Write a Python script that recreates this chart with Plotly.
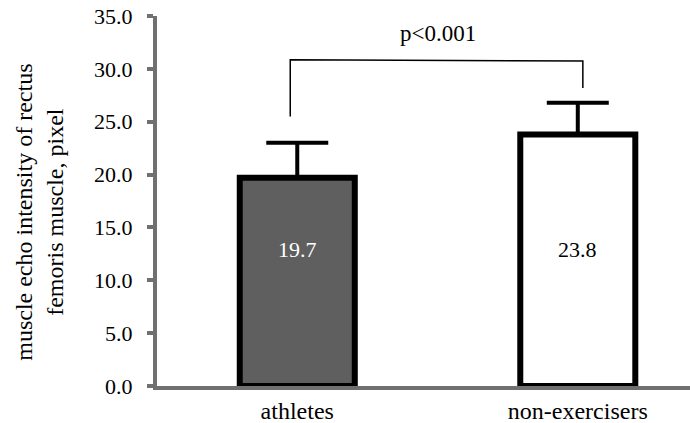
import plotly.graph_objects as go

categories = ["athletes", "non-exercisers"]
means = [19.7, 23.8]
sds = [3.3, 3.0]
fills = ["#5f5f5f", "#ffffff"]
label_colors = ["#ffffff", "#000000"]
y_ticks = [0, 5, 10, 15, 20, 25, 30, 35]
p_text = "p<0.001"
y_title = "muscle echo intensity of rectus<br>femoris muscle, pixel"

FONT = "Liberation Serif"
GRAY = "#707070"
xpos = list(range(len(categories)))

fig = go.Figure()
fig.add_trace(go.Bar(
    x=xpos, y=means, width=0.41,
    marker=dict(color=fills, line=dict(color="#000000", width=6)),
    error_y=dict(type="data", symmetric=False, array=sds, arrayminus=[0] * len(sds),
                 color="#000000", thickness=4, width=31),
    showlegend=False, hoverinfo="skip",
))

for i, (m, c) in enumerate(zip(means, label_colors)):
    fig.add_annotation(x=xpos[i], y=12.9, text=f"{m:.1f}", showarrow=False,
                       font=dict(family=FONT, size=22, color=c))

# significance bracket
fig.add_shape(type="path", xref="x", yref="y",
              path="M -0.025 25.5 L -0.025 30.85 L 1.018 30.75 L 1.018 28.2",
              line=dict(color="#000000", width=1.5))
fig.add_annotation(x=0.5, y=32.0, text=p_text, showarrow=False, yanchor="bottom",
                   font=dict(family=FONT, size=23, color="#000000"))

# y-axis title as a rotated annotation
fig.add_annotation(xref="paper", yref="paper", x=-0.222, y=0.47, text=y_title,
                   textangle=-90, showarrow=False, xanchor="center", yanchor="middle",
                   font=dict(family=FONT, size=24, color="#000000"))

fig.update_layout(
    width=690, height=423,
    margin=dict(l=157, r=0, t=16, b=37, autoexpand=False),
    plot_bgcolor="#ffffff", paper_bgcolor="#ffffff",
    font=dict(family=FONT, size=21, color="#000000"),
    xaxis=dict(range=[-0.5, 1.4], tickvals=xpos, ticktext=categories,
               showline=True, linecolor=GRAY, linewidth=4, ticks="",
               showgrid=False, zeroline=False, fixedrange=True, automargin=False,
               tickfont=dict(family=FONT, size=24, color="#000000")),
    yaxis=dict(range=[0, 35], tickvals=y_ticks, tickformat=".1f",
               showline=True, linecolor=GRAY, linewidth=4, automargin=False,
               ticks="outside", ticklen=6, tickwidth=4, tickcolor=GRAY,
               ticklabelstandoff=10, fixedrange=True,
               showgrid=False, zeroline=False,
               tickfont=dict(family=FONT, size=22, color="#000000")),
)

fig.write_html("out.html", config={"displayModeBar": False},
               post_script="document.body.style.margin='0px';")
